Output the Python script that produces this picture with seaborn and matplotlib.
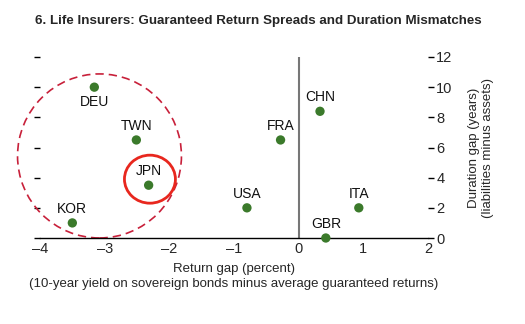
import matplotlib
matplotlib.use("Agg")
import matplotlib.pyplot as plt
import seaborn as sns
import pandas as pd
from matplotlib.patches import Ellipse

countries = ["DEU", "TWN", "JPN", "KOR", "CHN", "FRA", "USA", "ITA", "GBR"]
return_gap = [-3.16, -2.51, -2.32, -3.50, 0.33, -0.28, -0.80, 0.93, 0.42]
duration_gap = [10.0, 6.5, 3.5, 1.0, 8.4, 6.5, 2.0, 2.0, 0.0]
label_below = ["DEU"]
x_ticks = [-4, -3, -2, -1, 0, 1, 2]
y_ticks = [0, 2, 4, 6, 8, 10, 12]

df = pd.DataFrame({"country": countries, "x": return_gap, "y": duration_gap})

sns.set_style("white")
fam = ["Liberation Sans", "DejaVu Sans"]
plt.rcParams["font.family"] = fam

fig = plt.figure(figsize=(5.25, 3.24), dpi=100)
ax = fig.add_axes([40/525, 1-238/324, 388/525, 181/324])

sns.scatterplot(data=df, x="x", y="y", ax=ax, color="#3b7a2b", s=45,
                edgecolor="none", zorder=5, clip_on=False, legend=False)

for c, x, y in zip(countries, return_gap, duration_gap):
    dy = -15 if c in label_below else 14
    ax.annotate(c, (x, y), xytext=(0, dy), textcoords="offset pixels",
                ha="center", va="center", fontsize=10, color="#111111")

ax.axvline(0, color="#777777", lw=1.5, zorder=1)

ax.add_patch(Ellipse((-3.08, 5.44), 164/64.7, 164/15.08, fill=False,
                     ec="#c8203a", lw=1.2, ls=(0, (5, 3)), clip_on=False, zorder=2))
ax.add_patch(Ellipse((-2.30, 3.9), 51/64.7, 48/15.08, fill=False,
                     ec="#e8271e", lw=2.0, clip_on=False, zorder=3))

ax.set_xlim(-4, 2)
ax.set_ylim(0, 12)
ax.set_xticks(x_ticks)
ax.set_xticklabels([str(t).replace("-", "\u2013") for t in x_ticks])
ax.set_yticks(y_ticks)
ax.set_yticklabels([str(t) for t in y_ticks])

for s in ["top", "left", "right"]:
    ax.spines[s].set_visible(False)
ax.spines["bottom"].set_color("black")
ax.spines["bottom"].set_linewidth(1.0)

ax.tick_params(axis="x", direction="in", length=5, width=1, labelsize=10.5, pad=3, color="black")
ax.tick_params(axis="y", left=True, right=True, labelleft=False, labelright=True,
               direction="out", length=4, width=1, labelsize=10.5, pad=2, color="black")

ax.set_xlabel("Return gap (percent)\n(10-year yield on sovereign bonds minus average guaranteed returns)",
              fontsize=9.5, labelpad=5, linespacing=1.35)
ax.yaxis.set_label_position("right")
ax.set_ylabel("Duration gap (years)\n(liabilities minus assets)", fontsize=9.5,
              labelpad=11, linespacing=1.2)

fig.text(35/525, 1-21/324, "6. Life Insurers: Guaranteed Return Spreads and Duration Mismatches",
         fontsize=9.6, fontweight="bold", ha="left", va="center")

fig.savefig("out.png", dpi=100)
